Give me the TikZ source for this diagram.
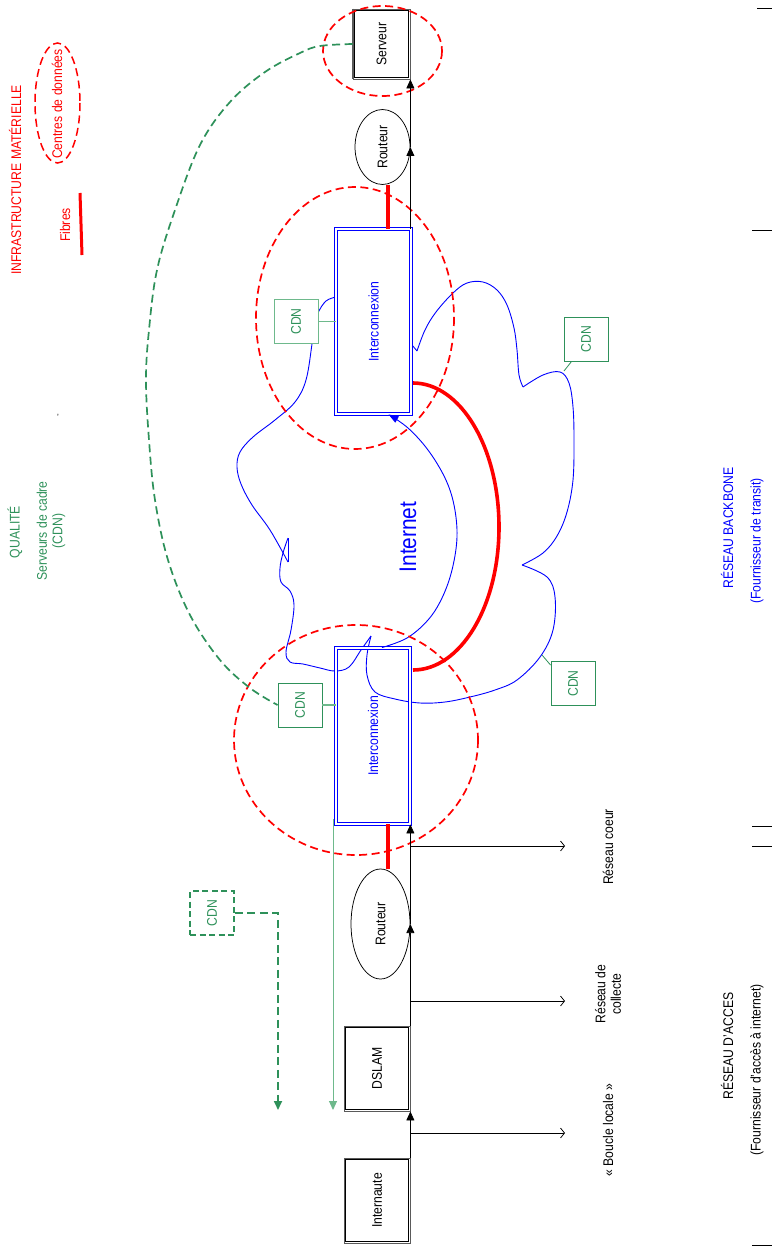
\documentclass[tikz,border=0pt]{standalone}
\usepackage{fontspec}
\setmainfont{Liberation Sans}[FakeStretch=0.87]
\usepackage{graphicx}
\usetikzlibrary{shapes.geometric,arrows.meta,calc}
\definecolor{cred}{RGB}{255,0,0}
\definecolor{cblue}{RGB}{0,0,255}
\definecolor{cgreen}{RGB}{46,145,90}
\definecolor{cgreenl}{RGB}{110,185,140}
\definecolor{cgray}{RGB}{90,90,90}
\begin{document}
\begin{tikzpicture}[x=1pt,y=-1pt,
  txt/.style={font=\fontsize{14}{15.5}\selectfont},
  lbl/.style={txt, rotate=90, inner sep=0pt},
  dbox/.style={txt, draw=cgray, line width=0.9pt, rectangle, inner sep=0pt},
  innerline/.style={draw=black, line width=0.8pt},
  ibox/.style={txt, draw=cblue, double=white, double distance=1.8pt, line width=0.9pt, rectangle, inner sep=0pt, text=cblue},
  rout/.style={txt, ellipse, draw=black, line width=0.75pt, inner sep=0pt},
  cdnbox/.style={txt, draw=cgreen, line width=0.9pt, rectangle, inner sep=0pt, minimum width=44pt, minimum height=44pt, text=cgreen, fill=white},
  dcring/.style={draw=cred, line width=1.7pt, dash pattern=on 8pt off 4.5pt},
  gdash/.style={draw=cgreen, line width=1.7pt, dash pattern=on 8pt off 4.5pt},
  fibre/.style={draw=cred, line width=3.2pt},
  cloudline/.style={draw=cblue, line width=0.9pt},
  flow/.style={draw=black, line width=0.75pt, -{Triangle[length=9pt,width=8pt]}},
  outarrow/.style={draw=black, line width=0.75pt, -{Straight Barb[length=4pt,width=10pt]}},
  tick/.style={draw=black, line width=0.8pt}
]
\useasboundingbox (0,0) rectangle (773,1249);

% ---------------- legend (left) ----------------
\node[lbl, text=cred] (infra) at (15,180) {INFRASTRUCTURE MATÉRIELLE};
\node[lbl, text=cred] (centres) at (57,104) {Centres de données};
\draw[dcring, line width=1.5pt] (57.5,103) ellipse [x radius=22.5, y radius=60];
\node[lbl, text=cred] (fibres) at (65,225) {Fibres};
\draw[cred, line width=3pt] (80,193) -- (82,255);
\node[lbl, text=cgreen] (qualite) at (15,532) {QUALITÉ};
\node[lbl, text=cgreen, align=center] (servcadre) at (51,531) {Serveurs de cadre\\(CDN)};
\node[font=\fontsize{9}{9}\selectfont, inner sep=0pt] (mark) at (58,417) {’};

% ---------------- right labels ----------------
\node[lbl, text=cblue] (backbone) at (727,528) {RÉSEAU BACKBONE};
\node[lbl, text=cblue] (transit) at (757,541) {(Fournisseur de transit)};
\node[lbl] (acces) at (727,1046) {RÉSEAU D'ACCES};
\node[lbl] (fai) at (757,1070) {(Fournisseur d'accès à internet)};
\draw[tick] (757,8) -- (772,8);
\draw[tick] (752,230) -- (772,230);
\draw[tick] (752,826) -- (772,826);
\draw[tick] (752,846) -- (772,846);
\draw[tick] (752,1245) -- (772,1245);

% ---------------- blue cloud ----------------
\draw[cloudline] plot[smooth, tension=0.6] coordinates {(336,297) (326,301) (318,313) (314,328) (312,344) (306,380) (295,402) (275,420) (253,437) (240,452) (237,467) (241,484) (252,505) (270,530) (288,562)};
\draw[cloudline] (288,562) -- (288,538);
\draw[cloudline] plot[smooth, tension=0.6] coordinates {(288,538) (283,553) (280,568) (281,582) (290,591) (294,605) (291,630) (286,652) (290,662) (303,664) (320,668) (335,671) (349,667) (361,650) (371,636)};
\draw[cloudline] plot[smooth, tension=0.6] coordinates {(371,636) (367,655) (367,675) (375,692) (395,699) (420,703) (445,702) (470,697) (495,690) (517,680) (540,657) (553,630) (555,597) (547,577) (522,565)};
\draw[cloudline] plot[smooth, tension=0.6] coordinates {(522,565) (543,553) (557,536) (567,512) (573,480) (574,440) (573,407) (569,383) (560,372) (543,375) (523,387)};
\draw[cloudline] plot[smooth, tension=0.6] coordinates {(523,387) (519,375) (517,350) (514,328) (507,305) (497,290) (483,282) (467,283) (453,293) (436,312) (425,330) (417,351)};
\draw[cloudline] (417,351) -- (412,345);
\node[lbl, text=cblue, font=\fontsize{24}{26}\selectfont] (internet) at (408,537) {Internet};

% ---------------- nodes ----------------
\node[dbox, minimum width=57pt, minimum height=70pt] (serveur) at (381.5,44) {\rotatebox{90}{Serveur}};
\draw[innerline] ([shift={(2.2pt,-2.2pt)}]serveur.north west) rectangle ([shift={(-2.2pt,2.2pt)}]serveur.south east);
\draw[cgray, line width=2.2pt] ([xshift=0.6pt]serveur.north west) -- ([xshift=0.6pt]serveur.south west);
\node[rout, minimum width=55pt, minimum height=75pt] (routeur1) at (382.5,147) {\rotatebox{90}{Routeur}};
\node[ibox, minimum width=75pt, minimum height=185pt] (inter1) at (373.5,321.5) {\rotatebox{90}{Interconnexion}};
\node[ibox, minimum width=74pt, minimum height=176pt] (inter2) at (373,736) {\rotatebox{90}{Interconnexion}};
\node[rout, minimum width=59pt, minimum height=110pt] (routeur2) at (380.5,924) {\rotatebox{90}{Routeur}};
\node[dbox, minimum width=66pt, minimum height=85pt] (dslam) at (377,1068.5) {\rotatebox{90}{DSLAM}};
\draw[innerline] ([shift={(2.2pt,-2.2pt)}]dslam.north west) rectangle ([shift={(-2.2pt,2.2pt)}]dslam.south east);
\node[dbox, minimum width=66pt, minimum height=85pt] (internaute) at (377,1200.5) {\rotatebox{90}{Internaute}};
\draw[innerline] ([shift={(2.2pt,-2.2pt)}]internaute.north west) rectangle ([shift={(-2.2pt,2.2pt)}]internaute.south east);

% blue arrow between interconnexions
\coordinate (a0) at ([xshift=9pt]inter2.north);
\coordinate (a1) at ([xshift=15pt]inter1.south);
\draw[cloudline, -{Triangle[length=10pt,width=7pt]}] plot[smooth, tension=0.6] coordinates {(a0) (407,638) (428,620) (442,598) (452,570) (457,537) (454,505) (445,478) (428,450) (408,428) (a1)};

% CDN boxes
\node[cdnbox, draw=cgreenl] (cdn1) at (296,321.5) {\rotatebox{90}{CDN}};
\node[cdnbox] (cdn2) at (586,339) {\rotatebox{90}{CDN}};
\node[cdnbox] (cdn3) at (300,705) {\rotatebox{90}{CDN}};
\node[cdnbox] (cdn4) at (573,683.5) {\rotatebox{90}{CDN}};
\node[cdnbox, line width=1.6pt, dash pattern=on 6pt off 3.5pt] (cdn5) at (212,913) {\rotatebox{90}{CDN}};

\draw[cgreenl, line width=1.3pt] (cdn1.east) -- (cdn1.east -| inter1.west);
\draw[cgreenl, line width=1.1pt] (cdn3.east) -- (cdn3.east -| inter2.west);
\coordinate (c2t) at (564,371);
\draw[cgreen, line width=0.8pt] ([xshift=8pt]cdn2.south west) -- (c2t);
\coordinate (c4t) at (542,655);
\draw[cgreen, line width=0.8pt] ([yshift=-4pt]cdn4.north west) -- (c4t);

% data centre rings
\draw[dcring] (382.5,51) ellipse [x radius=59.5, y radius=45];
\draw[dcring] (355,318) ellipse [x radius=99, y radius=131];
\draw[dcring] (356,740) ellipse [x radius=122, y radius=115];

% fibres
\coordinate (f1) at ([xshift=5.5pt]routeur1.south);
\draw[fibre] (f1) -- (f1 |- inter1.north);
\coordinate (f2) at ([xshift=7.5pt]routeur2.north);
\draw[fibre] (f2) -- (f2 |- inter2.south);
\coordinate (fa) at (413,383);
\coordinate (fb) at (413,670);
\draw[cred, line width=3.6pt] (fa) .. controls (460.5,383) and (499,447.5) .. (499,527) .. controls (499,606.5) and (460.5,670) .. (fb);

% black flow lines
\coordinate (r1e) at (routeur1.east);
\draw[flow] (r1e |- inter1.north) -- (r1e);
\draw[flow] (r1e) -- (r1e |- serveur.south);
\coordinate (r2e) at (routeur2.east);
\draw[flow] (r2e |- dslam.north) -- (r2e);
\draw[flow] (r2e) -- (r2e |- inter2.south);
\draw[flow] (r2e |- internaute.north) -- (r2e |- dslam.south);

\coordinate (h1s) at (410,846);  \coordinate (h1e) at (565,846);
\coordinate (h2s) at (410,1001); \coordinate (h2e) at (565,1001);
\coordinate (h3s) at (410,1133); \coordinate (h3e) at (565,1133);
\draw[outarrow] (h1s) -- (h1e);
\draw[outarrow] (h2s) -- (h2e);
\draw[outarrow] (h3s) -- (h3e);
\node[lbl] (coeur) at (608,847) {Réseau coeur};
\node[lbl, align=center] (collecte) at (608,994) {Réseau de\\collecte};
\node[lbl] (boucle) at (608,1130) {« Boucle locale »};

% green CDN links
\draw[gdash] plot[smooth, tension=0.6] coordinates {(serveur.west) (320,46) (300,53) (265,72) (230,102) (200,145) (175,210) (157,270) (149,330) (146,380) (149,440) (155,500) (168,560) (190,615) (220,660) (250,688) (cdn3.west)};
\coordinate (g0) at (333,819);
\coordinate (g1) at (333,1110);
\draw[cgreenl, line width=1pt, -{Triangle[length=9pt,width=8pt]}] (g0) -- (g1);
\coordinate (g2) at (278,913);
\coordinate (g3) at (278,1110);
\draw[gdash, -{Triangle[length=9pt,width=8pt]}] (cdn5.east) -- (g2) -- (g3);
\end{tikzpicture}
\end{document}
